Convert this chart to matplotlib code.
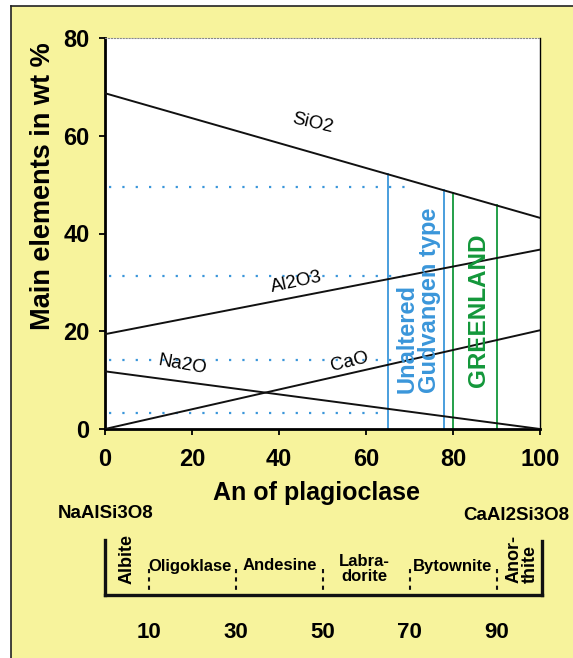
import numpy as np
import matplotlib
matplotlib.use('Agg')
import matplotlib.pyplot as plt
from matplotlib.patches import Rectangle
from matplotlib.lines import Line2D

plt.rcParams['font.family'] = ['Liberation Sans', 'DejaVu Sans']

# composition of the plagioclase end members (wt %)
an_ends = [0, 100]
sio2 = [68.7, 43.2]
al2o3 = [19.4, 36.7]
na2o = [11.8, 0.0]
cao = [0.0, 20.2]

# dotted read-off levels and where they stop
dot_levels = [49.5, 31.3, 14.1, 3.3]
dot_ends = [71, 69, 67, 65]

gudvangen_an = [65, 78]
greenland_an = [80, 90]

# plagioclase classes
bounds = [10, 30, 50, 70, 90]
class_names = ['Albite', 'Oligoklase', 'Andesine', 'Labra-\ndorite', 'Bytownite', 'Anor-\nthite']
class_pos = [5.0, 19.5, 40.2, 59.6, 79.8, 95.9]

yellow = '#F7F39C'
blue = '#3A96DA'
green = '#13973A'

W, H = 573, 658
fig = plt.figure(figsize=(W / 100, H / 100), dpi=100)
fig.patch.set_facecolor(yellow)
# white margin at left and top, with a dark frame line
fig.patches.append(Rectangle((0, 0), 11 / W, 1, transform=fig.transFigure,
                             facecolor='white', edgecolor='none'))
fig.patches.append(Rectangle((0, 1 - 6 / H), 1, 6 / H, transform=fig.transFigure,
                             facecolor='white', edgecolor='none'))
fig.lines.append(Line2D([11 / W, 11 / W], [0, 1 - 6 / H], transform=fig.transFigure, color='#222222', lw=1.2))
fig.lines.append(Line2D([11 / W, 1], [1 - 6 / H, 1 - 6 / H], transform=fig.transFigure, color='#222222', lw=1.2))

ax = fig.add_axes([105 / W, (H - 429) / H, 435 / W, 391 / H])
ax.set_facecolor('white')

for s in [sio2, al2o3, na2o, cao]:
    ax.plot(an_ends, s, color='#111111', lw=1.4, zorder=3)

for lvl, end in zip(dot_levels, dot_ends):
    ax.plot([1, end], [lvl, lvl], color=blue, lw=1.6, linestyle=(0, (1, 5)), zorder=2)

for a in gudvangen_an:
    ax.plot([a, a], [0, np.interp(a, an_ends, sio2)], color=blue, lw=1.3, zorder=2)
for a in greenland_an:
    ax.plot([a, a], [0, np.interp(a, an_ends, sio2)], color=green, lw=1.3, zorder=2)

ax.text(47.8, 62.6, 'SiO2', fontsize=13.5, rotation=-13, ha='center', va='center')
ax.text(43.9, 30.1, 'Al2O3', fontsize=13.5, rotation=12, ha='center', va='center')
ax.text(17.9, 13.1, 'Na2O', fontsize=13.5, rotation=-10, ha='center', va='center')
ax.text(56.3, 13.7, 'CaO', fontsize=13.5, rotation=14, ha='center', va='center')

ax.text(72.0, 7.4, 'Unaltered\nGudvangen type', color=blue, fontsize=17, fontweight='bold',
        rotation=90, ha='center', va='bottom', multialignment='left', linespacing=0.95)
ax.text(85.8, 8.6, 'GREENLAND', color=green, fontsize=17.5, fontweight='bold',
        rotation=90, ha='center', va='bottom')

ax.set_xlim(0, 100)
ax.set_ylim(0, 80)
ax.set_xticks([0, 20, 40, 60, 80, 100])
ax.set_yticks([0, 20, 40, 60, 80])
ax.tick_params(direction='out', length=4, width=1.3, labelsize=17)
ax.tick_params(axis='x', pad=10)
ax.tick_params(axis='y', pad=7)
for lab in ax.get_xticklabels() + ax.get_yticklabels():
    lab.set_fontweight('bold')
ax.spines['left'].set_linewidth(2)
ax.spines['bottom'].set_linewidth(2)
ax.spines['top'].set_linewidth(0.8)
ax.spines['top'].set_color('#888888')
ax.spines['top'].set_linestyle(':')
ax.spines['right'].set_linewidth(1)

ax.set_ylabel('Main elements in wt %', fontsize=19.5, fontweight='bold')
ax.yaxis.label.set_va('center')
ax.yaxis.set_label_coords(-0.1425, 0.62)
ax.set_xlabel('An of plagioclase', fontsize=18, fontweight='bold')
ax.xaxis.label.set_va('center')
ax.xaxis.set_label_coords(0.487, -0.164)

# composition scale below the plot (y in pixels from the top)
ax2 = fig.add_axes([105 / W, 0, 435 / W, 158 / H])
ax2.set_xlim(0, 100)
ax2.set_ylim(H, 500)
ax2.axis('off')

ax2.plot([0, 100.5], [595, 595], color='#111111', lw=2.4, solid_capstyle='projecting', clip_on=False)
ax2.plot([0, 0], [540, 595], color='#111111', lw=2.4, clip_on=False)
ax2.plot([100.5, 100.5], [541, 595], color='#111111', lw=2.4, clip_on=False)
for b in bounds:
    ax2.plot([b, b], [569, 595], color='#111111', lw=1.5, linestyle=(0, (2, 2)), clip_on=False)
    ax2.text(b, 632, str(b), fontsize=16, fontweight='bold', ha='center', va='center')

for name, p in zip(class_names, class_pos):
    if name in ('Albite', 'Anor-\nthite'):
        ax2.text(p, 559, name, fontsize=13, fontweight='bold', rotation=90,
                 ha='center', va='center', multialignment='left', linespacing=1.0)
    else:
        ax2.text(p, 569 if '\n' in name else 566, name, fontsize=12, fontweight='bold',
                 ha='center', va='center', linespacing=1.05)

ax2.text(0.2, 513, 'NaAlSi3O8', fontsize=13.5, fontweight='bold', ha='center', va='center', clip_on=False)
ax2.text(82.3, 515, 'CaAl2Si3O8', fontsize=13.5, fontweight='bold', ha='left', va='center', clip_on=False)

fig.savefig('out.png', dpi=100)
